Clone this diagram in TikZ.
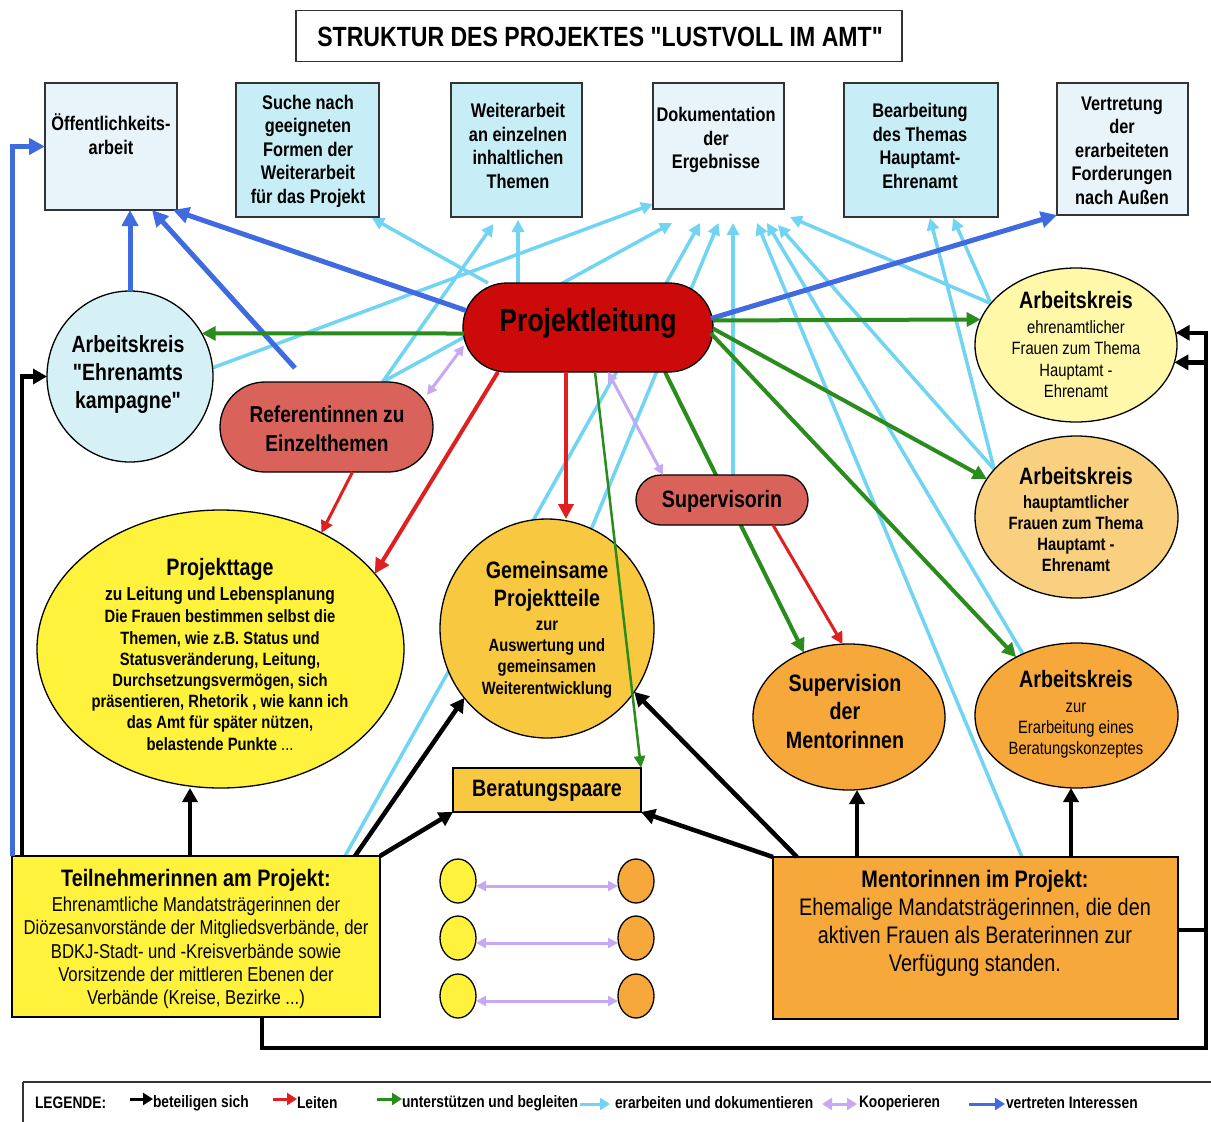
\documentclass[tikz,border=0pt]{standalone}
\usepackage{fontspec}
\setmainfont[FakeStretch=0.83, Ligatures=TeXOff]{Liberation Sans}
\usetikzlibrary{arrows.meta,shapes.geometric}
\pgfdeclarelayer{bg}
\pgfsetlayers{bg,main}
\definecolor{cBlue}{HTML}{3F6AE0}
\definecolor{cGreen}{HTML}{2A8C1C}
\definecolor{cRed}{HTML}{E02020}
\definecolor{cCyan}{HTML}{70D4F2}
\definecolor{cLav}{HTML}{C6A9F2}
\definecolor{cPale}{HTML}{E8F3FA}
\definecolor{cBoxCyan}{HTML}{C7EEF6}
\definecolor{cPL}{HTML}{CC0A0A}
\definecolor{cRef}{HTML}{D9625A}
\definecolor{cEhr}{HTML}{D6F1F6}
\definecolor{cYel}{HTML}{FFF23C}
\definecolor{cLightYel}{HTML}{FFF8A8}
\definecolor{cLightOr}{HTML}{F8D080}
\definecolor{cGold}{HTML}{F8C840}
\definecolor{cOr}{HTML}{F6A83A}
\newcommand\xfTop{\fontsize{19.7}{23.5}\selectfont\bfseries}
\newcommand\xfBig{\fontsize{23.7}{28.5}\selectfont\bfseries}
\newcommand\xfSmB{\fontsize{17.8}{21.2}\selectfont\bfseries}
\newcommand\xfSm{\fontsize{17.8}{21.2}\selectfont}
\newcommand\xfLeg{\fontsize{16.6}{19}\selectfont\bfseries}
\begin{document}
\begin{tikzpicture}[x=1pt,y=-1pt,
  shp/.style={draw=black, line width=1.3pt, inner sep=0pt, outer sep=0pt},
  tbox/.style={shp, rectangle, draw=black!80, line width=1.5pt},
  ell/.style={shp, ellipse},
  txt/.style={align=center, inner sep=0pt, outer sep=0pt, text=black},
  lgt/.style={inner sep=0pt, outer sep=0pt, font=\xfLeg, anchor=west},
  lgarr/.style={line width=3pt, -{Triangle[length=10pt,width=12pt]}},
  ablack/.style={draw=black, line width=4.5pt, -{Triangle[length=14pt,width=15pt]}},
  ablue/.style={draw=cBlue, line width=5pt, -{Triangle[length=16pt,width=16pt]}},
  agreen/.style={draw=cGreen, line width=4pt, -{Triangle[length=14pt,width=14pt]}},
  agreenthin/.style={draw=cGreen, line width=2.5pt, -{Triangle[length=12pt,width=11pt]}},
  ared/.style={draw=cRed, line width=4pt, -{Triangle[length=15pt,width=15pt]}},
  aredthin/.style={draw=cRed, line width=3pt, -{Triangle[length=12pt,width=12pt]}},
  acyan/.style={draw=cCyan, line width=3.5pt, -{Triangle[length=12pt,width=12pt]}},
  alav/.style={draw=cLav, line width=3pt, {Triangle[length=10pt,width=10pt]}-{Triangle[length=10pt,width=10pt]}}
]
\useasboundingbox (0,0) rectangle (1211,1122);
\begin{pgfonlayer}{bg}
\fill[white] (0,0) rectangle (1211,1122);
\end{pgfonlayer}

% ---------- title ----------
\node[tbox, minimum width=606pt, minimum height=51pt] (title) at (599,36) {};
\node[txt, font=\fontsize{27.8}{30}\selectfont\bfseries] (titletxt) at (600,37) {STRUKTUR DES PROJEKTES "LUSTVOLL IM AMT"};

% ---------- top boxes ----------
\node[tbox, fill=cPale, minimum width=132pt, minimum height=127pt] (oeff) at (111,146.5) {};
\node[tbox, fill=cBoxCyan, minimum width=143pt, minimum height=134pt] (suche) at (307.5,150) {};
\node[tbox, fill=cBoxCyan, minimum width=131pt, minimum height=134pt] (weiter) at (516.5,150) {};
\node[tbox, fill=cPale, minimum width=131pt, minimum height=126pt] (doku) at (718.5,146) {};
\node[tbox, fill=cBoxCyan, minimum width=154pt, minimum height=134pt] (bearb) at (921,150) {};
\node[tbox, fill=cPale, minimum width=131pt, minimum height=132pt] (vertr) at (1122.5,149) {};

\node[txt, font=\xfTop] (t-oeff) at (111,134) {Öffentlichkeits-\\arbeit};
\node[txt, font=\xfTop] (t-suche) at (308,151) {Suche nach\\geeigneten\\Formen der\\Weiterarbeit\\für das Projekt};
\node[txt, font=\xfTop] (t-weiter) at (518,146) {Weiterarbeit\\an einzelnen\\inhaltlichen\\Themen};
\node[txt, font=\xfTop] (t-doku) at (716,140) {Dokumentation\\der\\Ergebnisse};
\node[txt, font=\xfTop] (t-bearb) at (920,146) {Bearbeitung\\des Themas\\Hauptamt-\\Ehrenamt};
\node[txt, font=\xfTop] (t-vertr) at (1122,150.5) {Vertretung\\der\\erarbeiteten\\Forderungen\\nach Außen};

% ---------- middle nodes ----------
\node[shp, fill=cPL, rectangle, rounded corners=44pt, minimum width=250pt, minimum height=89pt] (pl) at (588,327.5) {};
\node[txt, font=\fontsize{32}{36}\selectfont\bfseries] (t-pl) at (588,323) {Projektleitung};

\node[ell, fill=cEhr, minimum width=166pt, minimum height=171pt] (ehr) at (130,376.5) {};
\node[txt, font=\fontsize{23.5}{28}\selectfont\bfseries] (t-ehr) at (128,374) {Arbeitskreis\\"Ehrenamts\\kampagne"};

\node[shp, fill=cRef, rectangle, rounded corners=45pt, minimum width=213pt, minimum height=90pt] (ref) at (326.5,427) {};
\node[txt, font=\fontsize{23}{29}\selectfont\bfseries] (t-ref) at (327,428.5) {Referentinnen zu\\Einzelthemen};

\node[shp, fill=cRef, rectangle, rounded corners=25pt, minimum width=172pt, minimum height=50pt] (sup) at (722,500) {};
\node[txt, font=\xfBig] (t-sup) at (722,501) {Supervisorin};

\node[ell, fill=cLightYel, minimum width=202pt, minimum height=154pt] (ake) at (1076,345) {};
\node[txt, font=\xfSm] (t-ake) at (1076,344.5) {{\xfBig Arbeitskreis}\\[3.8pt]ehrenamtlicher\\Frauen zum Thema\\Hauptamt -\\Ehrenamt};

\node[ell, fill=cLightOr, minimum width=203pt, minimum height=162pt] (akh) at (1076.5,517) {};
\node[txt, font=\xfSmB] (t-akh) at (1076,519.5) {{\xfBig Arbeitskreis}\\[2.8pt]hauptamtlicher\\Frauen zum Thema\\Hauptamt -\\Ehrenamt};

\node[ell, fill=cYel, minimum width=367pt, minimum height=278pt] (pt) at (220.5,649) {};
\node[txt, font=\xfSmB] (t-pt) at (220,654.5) {{\xfBig Projekttage}\\[3.8pt]{\fontsize{18.75}{21}\selectfont zu Leitung und Lebensplanung}\\[0.8pt]Die Frauen bestimmen selbst die\\Themen, wie z.B. Status und\\Statusveränderung, Leitung,\\Durchsetzungsvermögen, sich\\präsentieren, Rhetorik , wie kann ich\\das Amt für später nützen,\\belastende Punkte {\mdseries ...}};

\node[ell, fill=cGold, minimum width=214pt, minimum height=219pt] (gem) at (547,628.5) {};
\node[txt, font=\xfSmB] (t-gem) at (547,629.5) {{\xfBig Gemeinsame}\\[6.8pt]{\xfBig Projektteile}\\[2.8pt]zur\\Auswertung und\\gemeinsamen\\Weiterentwicklung};

\node[shp, fill=cGold, rectangle, minimum width=188pt, minimum height=44pt] (berat) at (547,790) {};
\node[txt, font=\xfBig] (t-berat) at (547,791) {Beratungspaare};

\node[ell, fill=cOr, minimum width=192pt, minimum height=146pt] (svm) at (849,717) {};
\node[txt, font=\xfBig] (t-svm) at (845,711.5) {Supervision\\der\\Mentorinnen};

\node[ell, fill=cOr, minimum width=203pt, minimum height=145pt] (akz) at (1076.5,715.5) {};
\node[txt, font=\xfSm] (t-akz) at (1076,714) {{\xfBig Arbeitskreis}\\[3.8pt]zur\\Erarbeitung eines\\Beratungskonzeptes};

% ---------- bottom boxes ----------
\node[shp, fill=cYel, rectangle, minimum width=368pt, minimum height=161pt] (tn) at (196,936.5) {};
\node[txt, font=\fontsize{20.1}{23.3}\selectfont] (t-tn) at (196,939) {{\fontsize{23.8}{26}\selectfont\bfseries Teilnehmerinnen am Projekt:}\\[1.7pt]Ehrenamtliche Mandatsträgerinnen der\\Diözesanvorstände der Mitgliedsverbände, der\\BDKJ-Stadt- und -Kreisverbände sowie\\Vorsitzende der mittleren Ebenen der\\Verbände (Kreise, Bezirke ...)};

\node[shp, fill=cOr, rectangle, minimum width=405pt, minimum height=162pt] (ment) at (975.5,938) {};
\node[txt, font=\fontsize{23.9}{28}\selectfont] (t-ment) at (975,923) {{\bfseries Mentorinnen im Projekt:}\\Ehemalige Mandatsträgerinnen, die den\\aktiven Frauen als Beraterinnen zur\\Verfügung standen.};

% ---------- pairs ----------
\foreach \i/\yy in {1/881,2/938,3/996}{
  \node[ell, fill=cYel, minimum width=36pt, minimum height=44pt] (py\i) at (458,\yy) {};
  \node[ell, fill=cOr, minimum width=36pt, minimum height=44pt] (po\i) at (636,\yy) {};
  \draw[alav] ([yshift=-5pt]py\i.east) -- ([yshift=-5pt]po\i.west);
}

% ---------- background connectors (cyan etc.) ----------
\begin{pgfonlayer}{bg}
\draw[acyan] ([xshift=-100pt]pl.north) -- ([xshift=-7pt,yshift=-1pt]suche.south east);
\draw[acyan] (ehr.6) -- ([yshift=5pt]doku.south west);
\draw[acyan] ([xshift=56pt]ref.north) -- ([xshift=-23pt,yshift=-7pt]weiter.south);
\draw[acyan] ([xshift=56pt]ref.north) -- ([xshift=-46.5pt,yshift=-14pt]doku.south);
\draw[acyan] ([xshift=-70pt]pl.north) -- ([xshift=-70pt,yshift=-3pt]pl.north |- weiter.south);
\draw[acyan] ([xshift=149pt]tn.north) -- ([xshift=-18.5pt,yshift=-14pt]doku.south);
\draw[acyan] (gem.66) -- ([xshift=0pt,yshift=-14pt]doku.south);
\draw[acyan] ([xshift=11pt]sup.north) -- ([xshift=14.5pt,yshift=-14pt]doku.south);
\draw[acyan] ([xshift=46.5pt]ment.north) -- ([xshift=38.5pt,yshift=-14pt]doku.south);
\draw[acyan] (akz.131) -- ([xshift=48.5pt,yshift=-14pt]doku.south);
\draw[acyan] (akh.150) -- ([xshift=59.5pt,yshift=-16pt]doku.south);
\draw[acyan] (ake.154) -- ([xshift=71.5pt,yshift=-8pt]doku.south);
\draw[acyan] (akh.150) -- ([xshift=9pt,yshift=-1pt]bearb.south);
\draw[acyan] (ake.154) -- ([xshift=32pt,yshift=-1pt]bearb.south);
\draw[agreen] ([xshift=77pt]pl.south) -- (svm.125);
\end{pgfonlayer}

% ---------- blue ----------
\draw[ablue] (tn.north west) |- (oeff.west);
\draw[ablue] (ehr.north) -- (ehr.north |- oeff.south);
\coordinate (bfree) at (295,368);
\draw[ablue] (bfree) -- ([xshift=41pt]oeff.south);
\draw[ablue] ([xshift=3pt,yshift=17pt]pl.west) -- ([xshift=-4pt]oeff.south east);
\draw[ablue] ([xshift=-2pt,yshift=9pt]pl.east) -- (vertr.south west);

% ---------- green ----------
\draw[agreen] ([xshift=1pt,yshift=-6pt]pl.west) -- (ehr.31);
\draw[agreen] ([yshift=7pt]pl.east) -- (ake.165);
\draw[agreen] ([yshift=-1pt]pl.east) -- (akh.157);
\draw[agreen] ([xshift=-2pt,yshift=-6pt]pl.east) -- (akz.136);
\draw[agreenthin] ([xshift=7pt]pl.south) -- (berat.north east);

% ---------- red ----------
\draw[ared] ([xshift=-22pt]pl.south) -- ([xshift=-22pt]pl.south |- gem.north);
\draw[ared] ([xshift=35pt]pl.south west) -- (pt.26);
\draw[aredthin] ([xshift=26pt]ref.south) -- (pt.49);
\draw[aredthin] ([xshift=51pt]sup.south) -- (svm.95);

% ---------- lavender ----------
\draw[alav] ([xshift=-6pt,yshift=-13pt]ref.north east) -- ([xshift=1pt,yshift=-18pt]pl.west);
\draw[alav] ([xshift=20pt]pl.south) -- ([xshift=-59pt]sup.north);

% ---------- black ----------
\draw[ablack] ([xshift=-6pt]tn.north) -- ([xshift=-6pt]tn.north |- pt.south);
\draw[ablack] ([xshift=-25pt]tn.north east) -- (gem.220);
\draw[ablack] (tn.north east) -- (berat.south west);
\draw[ablack] ([xshift=10pt]tn.north west) |- (ehr.west);
\draw[ablack] ([xshift=24pt]ment.north west) -- (gem.324);
\draw[ablack] (ment.north west) -- (berat.south east);
\draw[ablack] ([xshift=-118.5pt]ment.north) -- ([xshift=-118.5pt]ment.north |- svm.south);
\draw[ablack] ([xshift=95.5pt]ment.north) -- ([xshift=95.5pt]ment.north |- akz.south);
\coordinate (rA) at (1206,930);
\draw[ablack] (ment.east |- rA) -- (rA) |- (ake.7);
\coordinate (rB) at (262,1048);
\coordinate (rC) at (1206,1048);
\draw[ablack] (tn.south -| rB) -- (rB) -- (rC) |- (ake.-10);

% ---------- legend ----------
\draw[line width=1.5pt, black!80] (23,1082) -- (1211,1082);
\draw[line width=1.2pt, black!80] (23,1082) -- (23,1122);
\node[lgt] (lg0) at (35,1103) {LEGENDE:};
\node[lgt] (lg1) at (153,1103) {beteiligen sich};
\node[lgt] (lg2) at (297,1103) {Leiten};
\node[lgt] (lg3) at (402,1103) {unterstützen und begleiten};
\node[lgt] (lg4) at (615,1103) {erarbeiten und dokumentieren};
\node[lgt] (lg5) at (859,1103) {Kooperieren};
\node[lgt] (lg6) at (1006,1103) {vertreten Interessen};
\coordinate (la1) at (130,1099);
\coordinate (la2) at (273,1099);
\coordinate (la3) at (377,1099);
\coordinate (la4) at (580,1104);
\coordinate (la5) at (822,1104);
\coordinate (la6) at (969,1104);
\draw[lgarr, black] (la1) -- (lg1.west |- la1);
\draw[lgarr, cRed] (la2) -- (lg2.west |- la2);
\draw[lgarr, cGreen] (la3) -- (lg3.west |- la3);
\draw[lgarr, cCyan] (la4) -- ([xshift=-5pt]lg4.west |- la4);
\draw[cLav, line width=3pt, {Triangle[length=10pt,width=12pt]}-{Triangle[length=10pt,width=12pt]}] (la5) -- ([xshift=-2pt]lg5.west |- la5);
\draw[lgarr, cBlue] (la6) -- ([xshift=-1pt]lg6.west |- la6);
\end{tikzpicture}
\end{document}
